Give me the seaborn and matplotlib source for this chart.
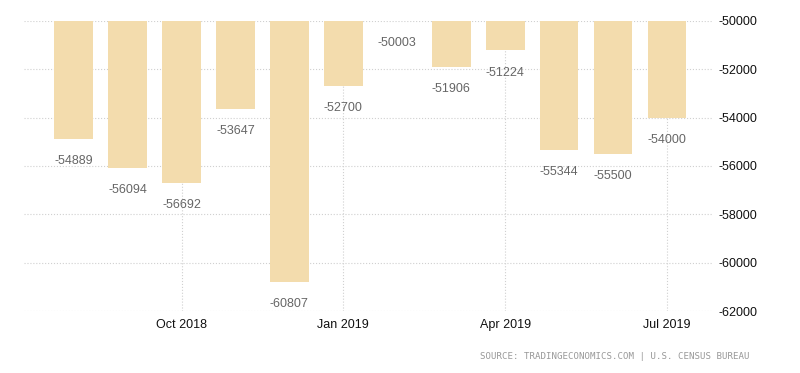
import matplotlib
matplotlib.use("Agg")
import matplotlib.pyplot as plt
import seaborn as sns
import pandas as pd

# Data
months = ["Aug 2018", "Sep 2018", "Oct 2018", "Nov 2018", "Dec 2018", "Jan 2019",
          "Feb 2019", "Mar 2019", "Apr 2019", "May 2019", "Jun 2019", "Jul 2019"]
balance = [-54889, -56094, -56692, -53647, -60807, -52700,
           -50003, -51906, -51224, -55344, -55500, -54000]
tick_months = ["Oct 2018", "Jan 2019", "Apr 2019", "Jul 2019"]
y_ticks = [-50000, -52000, -54000, -56000, -58000, -60000, -62000]

df = pd.DataFrame({"month": months, "balance": balance})

sns.set_style("white")
plt.rcParams['font.family'] = ['Liberation Sans', 'DejaVu Sans']

fig = plt.figure(figsize=(8, 3.73), dpi=100)
ax = fig.add_axes([0.03, 0.166, 0.861, 0.778])

sns.barplot(data=df, x="month", y="balance", order=months, color="#f3dcad",
            saturation=1, width=0.72, linewidth=0, ax=ax, zorder=2)

ax.set_ylim(-62000, -50000)
ax.set_xlim(-0.92, 11.85)

# value labels under each bar
for i, v in enumerate(balance):
    ax.annotate(str(v), (i, v), xytext=(0, -16), textcoords="offset points",
                ha="center", va="center", fontsize=9, color="#666666", zorder=3)

ax.yaxis.tick_right()
ax.set_yticks(y_ticks)
ax.set_yticklabels([str(t) for t in y_ticks], fontsize=9, color="#111111")
ax.set_xticks([months.index(m) for m in tick_months])
ax.set_xticklabels(tick_months, fontsize=9, color="#111111")
ax.tick_params(axis="both", length=0)
ax.tick_params(axis="y", pad=4)
ax.tick_params(axis="x", pad=6)
ax.set_xlabel("")
ax.set_ylabel("")

ax.grid(True, axis="both", linestyle=":", color="#d0d0d0", linewidth=0.8, zorder=0)
ax.set_axisbelow(True)
for s in ax.spines.values():
    s.set_visible(False)

fig.text(0.9375, 0.045, "SOURCE: TRADINGECONOMICS.COM | U.S. CENSUS BUREAU",
         ha="right", va="center", fontsize=6.6, color="#999999",
         family="DejaVu Sans Mono")

fig.savefig("out.png", dpi=100)
